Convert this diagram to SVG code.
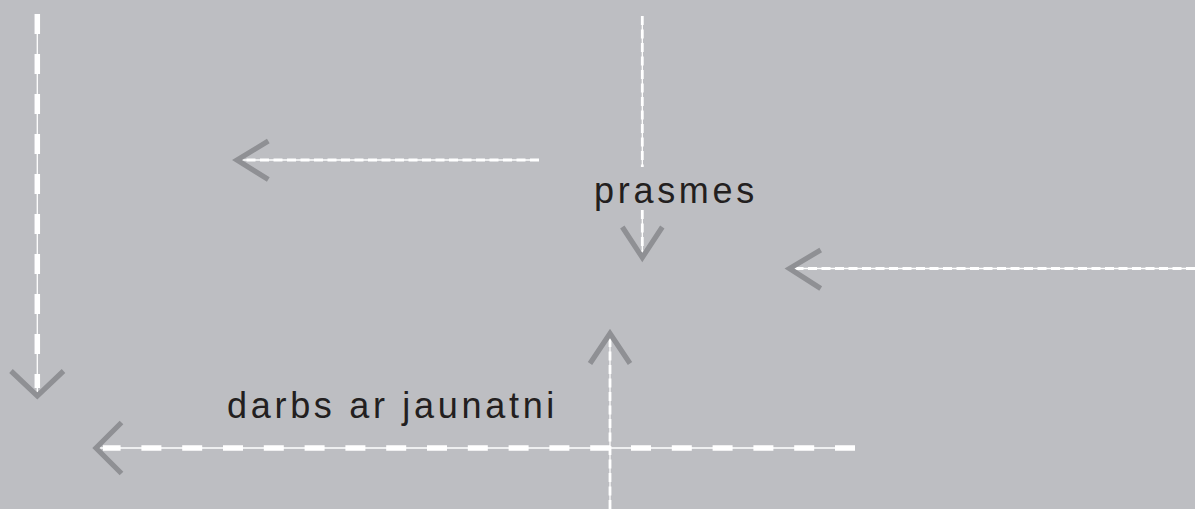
<svg xmlns="http://www.w3.org/2000/svg" width="1195" height="509" viewBox="0 0 1195 509">
  <style>
    .thin { stroke: #ffffff; stroke-width: 1.3; fill: none; }
    .bigdash { stroke: #ffffff; stroke-width: 5.5; fill: none; stroke-dasharray: 20 20; }
    .smalldash { stroke: #ffffff; stroke-width: 2.8; fill: none; stroke-dasharray: 9 4.5; }
    .head { stroke: #8f9094; stroke-width: 5.2; fill: none; stroke-linecap: butt; stroke-linejoin: miter; }
    .label { font-family: "Liberation Sans", Arial, Helvetica, sans-serif; font-size: 36px; letter-spacing: 3.7px; fill: #231f20; }
  </style>
  <rect x="0" y="0" width="1195" height="509" fill="#bdbec2"/>
  <g id="connectors">
    <g id="c-left">
      <path class="thin" d="M37.3 14 V394"/>
      <path class="bigdash" d="M37.3 14 V388"/>
      <path class="head" d="M11 371 L37.3 396 L63.5 371"/>
    </g>
    <g id="c-bottom">
      <path class="thin" d="M855 448 H96"/>
      <path class="bigdash" d="M855 448 H103" style="stroke-dasharray:20 20.8"/>
      <path class="head" d="M121.5 422.5 L96 448 L121.5 473.5"/>
    </g>
    <g id="c-topmid">
      <path class="thin" d="M539 160 H238"/>
      <path class="smalldash" d="M539 160 H241"/>
      <path class="head" d="M268.3 141 L237 160 L268.3 179.5"/>
    </g>
    <g id="c-right">
      <path class="thin" d="M1195 268.5 H790"/>
      <path class="smalldash" d="M1195 268.5 H795"/>
      <path class="head" d="M820.7 250 L789.5 268.5 L820.7 288.5"/>
    </g>
    <g id="c-prasmes">
      <path class="thin" d="M642.3 16 V167 M642.3 210 V256"/>
      <path class="smalldash" d="M642.3 16 V167"/>
      <path class="smalldash" d="M642.3 210 V254"/>
      <path class="head" d="M622.3 227 L642.3 257.5 L662.3 227"/>
    </g>
    <g id="c-up">
      <path class="thin" d="M610 509 V335"/>
      <path class="smalldash" d="M610 509 V338"/>
      <path class="head" d="M590 363.5 L610 333.5 L630 363.5"/>
    </g>
  </g>
  <g id="node-prasmes">
    <text class="label" x="594" y="203">prasmes</text>
  </g>
  <g id="node-darbs">
    <text class="label" x="227" y="418">darbs ar jaunatni</text>
  </g>
</svg>
